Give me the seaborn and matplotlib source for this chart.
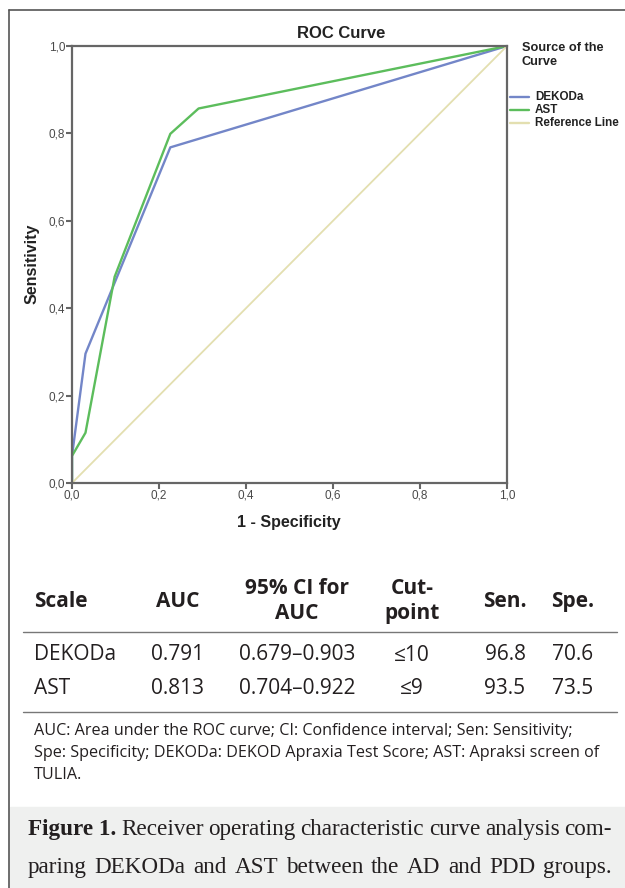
import pandas as pd
import matplotlib.pyplot as plt
import seaborn as sns
from matplotlib.lines import Line2D
from matplotlib.patches import Rectangle

# ROC points (1 - specificity, sensitivity)
dekoda_fpr = [0.0, 0.0, 0.031, 0.226, 1.0]
dekoda_tpr = [0.0, 0.062, 0.296, 0.768, 1.0]
ast_fpr = [0.0, 0.0, 0.031, 0.098, 0.226, 0.291, 1.0]
ast_tpr = [0.0, 0.062, 0.115, 0.472, 0.799, 0.857, 1.0]
ref_fpr = [0.0, 1.0]
ref_tpr = [0.0, 1.0]

sources = ["DEKODa", "AST", "Reference Line"]
colors = ["#7386c8", "#5cbd5c", "#e3dfb0"]
ticks = [0.0, 0.2, 0.4, 0.6, 0.8, 1.0]

# table
header = ["Scale", "AUC", "95% CI for\nAUC", "Cut-\npoint", "Sen.", "Spe."]
scales = ["DEKODa", "AST"]
auc = ["0.791", "0.813"]
ci = ["0.679\u20130.903", "0.704\u20130.922"]
cutpoint = ["\u226410", "\u22649"]
sen = ["96.8", "93.5"]
spe = ["70.6", "73.5"]

footnote = ("AUC: Area under the ROC curve; CI: Confidence interval; Sen: Sensitivity;\n"
            "Spe: Specificity; DEKODa: DEKOD Apraxia Test Score; AST: Apraksi screen of\n"
            "TULIA.")
caption_lines = [
    ("Figure 1.", "Receiver operating characteristic curve analysis com-"),
    ("", "paring DEKODa and AST between the AD and PDD groups."),
]

df = pd.concat([
    pd.DataFrame({"fpr": dekoda_fpr, "tpr": dekoda_tpr, "source": sources[0]}),
    pd.DataFrame({"fpr": ast_fpr, "tpr": ast_tpr, "source": sources[1]}),
    pd.DataFrame({"fpr": ref_fpr, "tpr": ref_tpr, "source": sources[2]}),
], ignore_index=True)

sns.set_style("white")
plt.rcParams["font.family"] = ["Liberation Sans", "DejaVu Sans"]

W, H = 625, 888
fig = plt.figure(figsize=(W / 100, H / 100), dpi=100)


def fx(px):
    return px / W


def fy(py):
    return 1 - py / H


ax = fig.add_axes([fx(72), fy(483), fx(507) - fx(72), fy(46) - fy(483)])
sns.lineplot(data=df, x="fpr", y="tpr", hue="source", palette=dict(zip(sources, colors)),
             sort=False, estimator=None, ax=ax, legend=False, linewidth=1.7)
ax.lines[2].set_linewidth(1.3)

ax.set_xlim(0, 1)
ax.set_ylim(0, 1)
ax.set_xticks(ticks)
ax.set_yticks(ticks)
lbls = [f"{t:.1f}".replace(".", ",") for t in ticks]
ax.set_xticklabels(lbls, fontsize=8.5, color="#4a4a4a")
ax.set_yticklabels(lbls, fontsize=8.5, color="#4a4a4a")
ax.tick_params(axis="both", which="major", length=4, width=1.5, color="#666666",
               direction="out", pad=1, bottom=True, left=True)
for s in ax.spines.values():
    s.set_color("#666666")
    s.set_linewidth(1.6)
ax.set_xlabel("")
ax.set_ylabel("")
ax.set_facecolor("white")

fig.text(fx(341), fy(33), "ROC Curve", ha="center", va="center", fontsize=12, fontweight="bold", color="#222222")
fig.text(fx(289), fy(522), "1 - Specificity", ha="center", va="center", fontsize=11.5, fontweight="bold", color="#222222")
fig.text(fx(32), fy(264), "Sensitivity", ha="center", va="center", rotation=90, fontsize=11.5, fontweight="bold", color="#222222")

# legend
fig.text(fx(522), fy(55), "Source of the\nCurve", ha="left", va="center", fontsize=9.2,
         fontweight="bold", color="#222222", linespacing=1.3)
for i, (name, c) in enumerate(zip(sources, colors)):
    yy = 97 + i * 13
    fig.add_artist(Line2D([fx(510), fx(529)], [fy(yy), fy(yy)], color=c, linewidth=1.7))
    fig.text(fx(535), fy(yy), name, ha="left", va="center", fontsize=8.4, fontweight="bold", color="#222222")

# panel border
fig.add_artist(Line2D([fx(9), fx(9)], [fy(10), 0], color="#555555", linewidth=1.2))
fig.add_artist(Line2D([fx(9), 1], [fy(10), fy(10)], color="#555555", linewidth=1.2))

# table
tfont = ["Open Sans", "DejaVu Sans"]
col_x = [34, 178, 297, 412, 505, 573]
col_ha = ["left", "center", "center", "center", "center", "center"]
for x, h, ha in zip(col_x, header, col_ha):
    fig.text(fx(x), fy(601), h, ha=ha, va="center", fontsize=15, fontweight="bold",
             family=tfont, color="#231f20", linespacing=1.25)
fig.add_artist(Line2D([fx(23), fx(617)], [fy(632), fy(632)], color="#777777", linewidth=1.0))
for r in range(len(scales)):
    row = [scales[r], auc[r], ci[r], cutpoint[r], sen[r], spe[r]]
    yy = 655 + r * 33
    for x, v, ha in zip(col_x, row, col_ha):
        fig.text(fx(x), fy(yy), v, ha=ha, va="center", fontsize=15, family=tfont, color="#231f20")
fig.add_artist(Line2D([fx(23), fx(617)], [fy(712), fy(712)], color="#777777", linewidth=1.0))

fig.text(fx(34), fy(753), footnote, ha="left", va="center", fontsize=11.6, family=tfont,
         color="#231f20", linespacing=1.5)

# caption box, justified lines
fig.add_artist(Rectangle((fx(10), 0), 1 - fx(10), fy(807), color="#eff0ef", zorder=0))
cap_font = ["Liberation Serif", "DejaVu Serif"]
renderer = fig.canvas.get_renderer()
left, right = 28, 612
for (bold, rest), yy in zip(caption_lines, [829, 867]):
    words = ([(bold, "bold")] if bold else []) + [(w, "normal") for w in rest.split(" ")]
    items = []
    for w, wt in words:
        t = fig.text(0, fy(yy), w, ha="left", va="center", fontsize=16.7, fontweight=wt,
                     family=cap_font, color="#231f20")
        items.append((t, t.get_window_extent(renderer).width))
    total = sum(wd for _, wd in items)
    gap = max(4.0, (right - left - total) / (len(items) - 1))
    x = left
    for t, wd in items:
        t.set_x(fx(x))
        x += wd + gap

fig.savefig("out.png", dpi=100, facecolor="white")
